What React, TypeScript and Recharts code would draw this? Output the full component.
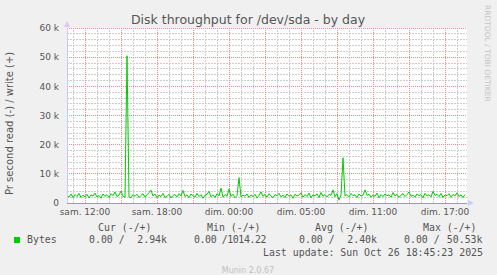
import { CartesianGrid, Line, LineChart, ReferenceLine, XAxis, YAxis } from "recharts";

// Bytes per second (k), one sample every 10 minutes from sam. 10:30
const bytesK: number[] = [
  2.6, 2.0, 3.1, 1.8, 2.9, 2.2, 3.3, 1.9, 2.7, 2.1,
  3.0, 1.7, 2.8, 2.4, 3.4, 2.0, 2.6, 1.6, 3.1, 2.3,
  2.9, 1.9, 3.2, 2.5, 3.8, 2.2, 2.7, 4.1, 2.3, 2.0,
  50.5, 2.1, 1.8, 2.9, 2.3, 3.0, 1.9, 2.6, 3.2, 2.0,
  2.8, 3.5, 4.4, 2.4, 3.1, 1.8, 2.7, 2.2, 3.3, 1.9,
  2.3, 3.0, 1.7, 2.6, 2.9, 2.1, 3.2, 2.4, 4.3, 2.2,
  2.8, 1.8, 3.1, 2.5, 2.0, 3.3, 2.2, 2.9, 1.6, 2.7,
  3.0, 4.0, 2.1, 2.8, 1.9, 3.2, 2.4, 5.1, 2.0, 2.9,
  2.3, 4.8, 2.2, 3.0, 1.8, 2.6, 8.7, 2.1, 2.7, 2.3,
  3.1, 1.9, 2.8, 2.2, 3.0, 1.7, 2.6, 3.8, 2.3, 2.9,
  2.0, 3.2, 2.4, 1.8, 2.9, 2.5, 3.3, 2.1, 2.7, 1.9,
  3.1, 2.3, 2.8, 1.6, 3.0, 2.4, 2.7, 3.5, 2.0, 2.9,
  2.2, 3.4, 1.8, 2.8, 2.5, 3.1, 1.9, 3.6, 2.3, 2.9,
  2.1, 3.0, 2.6, 4.5, 2.2, 3.2, 1.0, 2.8, 15.5, 2.4,
  2.9, 2.1, 3.3, 2.5, 2.8, 1.9, 3.1, 2.4, 2.7, 4.5,
  2.6, 3.0, 2.0, 2.8, 2.3, 3.4, 1.8, 2.9, 2.2, 3.1,
  2.5, 2.8, 2.0, 3.6, 2.4, 3.0, 1.9, 2.7, 3.2, 2.2,
  2.9, 3.8, 2.3, 2.7, 2.0, 3.1, 2.5, 2.9, 1.8, 3.3,
  2.4, 2.8, 2.1, 4.0, 2.6, 3.0, 2.2, 3.3, 1.9, 2.8,
  2.5, 3.2, 2.0, 2.9, 2.4, 3.5, 2.2, 2.8, 1.9, 2.9,
];

// hours since the start of the graph
const xTicks = [1.5, 7.5, 13.5, 19.5, 25.5, 31.5];
const xTickLabels = ["sam. 12:00", "sam. 18:00", "dim. 00:00", "dim. 05:00", "dim. 11:00", "dim. 17:00"];
const xMajor = [1.5, 4.5, 7.5, 10.5, 13.5, 16.5, 19.5, 22.5, 25.5, 28.5, 31.5];
const xMinor = [
  0.5, 2.5, 3.5, 5.5, 6.5, 8.5, 9.5, 11.5, 12.5, 14.5, 15.5, 17.5, 18.5,
  20.5, 21.5, 23.5, 24.5, 26.5, 27.5, 29.5, 30.5, 32.5,
];
const yTicks = [0, 10, 20, 30, 40, 50, 60];
const yMinor = [2, 4, 6, 8, 12, 14, 16, 18, 22, 24, 26, 28, 32, 34, 36, 38, 42, 44, 46, 48, 52, 54, 56, 58];

const legendHeads = ["Cur (-/+)", "Min (-/+)", "Avg (-/+)", "Max (-/+)"];
const legendLeft = ["0.00 /", "0.00 /", "0.00 /"];
const legendRight = ["2.94k", "2.40k", "50.53k"];
const legendMin = "0.00 /1014.22";

const data = bytesK.map((v, i) => ({ t: i / 6, v }));

const sans = "'DejaVu Sans', sans-serif";
const mono = "'DejaVu Sans Mono', monospace";
const textColor = "#555";
const minorGrid = "#cdcdcd";
const majorGrid = "#ee8c8c";

export default function App() {
  return (
    <div style={{ position: "fixed", left: 0, top: 0, width: 497, height: 275, background: "#f0f0f0" }}>
      <LineChart width={497} height={275} data={data} margin={{ top: 28, right: 30, bottom: 52, left: 7 }}>
        <CartesianGrid fill="#ffffff" horizontal={false} vertical={false} />
        {xMinor.map((x) => (
          <ReferenceLine key={"xm" + x} x={x} stroke={minorGrid} strokeDasharray="2 1" shapeRendering="crispEdges" />
        ))}
        {yMinor.map((y) => (
          <ReferenceLine key={"ym" + y} y={y} stroke={minorGrid} strokeDasharray="2 1" shapeRendering="crispEdges" />
        ))}
        {xMajor.map((x) => (
          <ReferenceLine key={"xM" + x} x={x} stroke={majorGrid} strokeDasharray="1 1" shapeRendering="crispEdges" />
        ))}
        {yTicks.slice(1).map((y) => (
          <ReferenceLine key={"yM" + y} y={y} stroke={majorGrid} strokeDasharray="1 1" shapeRendering="crispEdges" />
        ))}
        <XAxis
          type="number"
          dataKey="t"
          domain={[0, 400 / 12]}
          ticks={xTicks}
          tickFormatter={(v) => xTickLabels[xTicks.indexOf(v)] ?? ""}
          height={20}
          tickSize={5}
          tickMargin={1}
          tickLine={false}
          axisLine={{ stroke: "#9a9ab0", shapeRendering: "crispEdges" }}
          tick={{ fontSize: 9, fontFamily: sans, fill: textColor }}
          interval={0}
        />
        <YAxis
          type="number"
          domain={[0, 60]}
          ticks={yTicks}
          tickFormatter={(v) => (v === 0 ? "0" : `${v} k`)}
          width={60}
          tickLine={false}
          axisLine={{ stroke: "#c8ccf4", shapeRendering: "crispEdges" }}
          tick={{ fontSize: 9, fontFamily: sans, fill: textColor }}
          interval={0}
        />
        <Line
          type="linear"
          dataKey="v"
          stroke="#00cc00"
          strokeWidth={1}
          dot={false}
          isAnimationActive={false}
        />
      </LineChart>
      <svg
        width={497}
        height={275}
        style={{ position: "absolute", left: 0, top: 0, pointerEvents: "none" }}
      >
        <polygon points="64,27 70,27 67,21" fill="#c8d0f8" />
        <polygon points="468,200 468,206 474,203" fill="#c8d0f8" />
        <text x={248} y={24} textAnchor="middle" fontFamily={sans} fontSize={12.5} fill={textColor}>
          Disk throughput for /dev/sda - by day
        </text>
        <text
          x={13.3}
          y={123.4}
          transform="rotate(-90 13.3 123.4)"
          textAnchor="middle"
          fontFamily={sans}
          fontSize={10}
          fill={textColor}
        >
          Pr second read (-) / write (+)
        </text>
        <text
          x={485}
          y={53.3}
          transform="rotate(90 485 53.3)"
          textAnchor="middle"
          fontFamily={sans}
          fontSize={7.5}
          fill="#c4c4c4"
        >
          RRDTOOL / TOBI OETIKER
        </text>
        <g fontFamily={mono} fontSize={9.9} fill={textColor}>
          {legendHeads.map((h, i) => (
            <text key={h} x={[98, 207, 315, 423][i]} y={230.5}>
              {h}
            </text>
          ))}
          <rect x={14} y={237} width={6} height={6} fill="#00cc00" />
          <text x={27} y={243}>Bytes</text>
          {legendLeft.map((v, i) => (
            <text key={"l" + i} x={[89, 299, 404][i]} y={243}>
              {v}
            </text>
          ))}
          {legendRight.map((v, i) => (
            <text key={"r" + i} x={[167, 377, 482.5][i]} y={243} textAnchor="end">
              {v}
            </text>
          ))}
          <text x={194} y={243} textLength={72.5} lengthAdjust="spacing">
            {legendMin}
          </text>
          <text x={483} y={255.5} textAnchor="end">
            Last update: Sun Oct 26 18:45:23 2025
          </text>
        </g>
        <text x={248} y={273} textAnchor="middle" fontFamily={sans} fontSize={8} fill="#c0c0c0">
          Munin 2.0.67
        </text>
      </svg>
    </div>
  );
}
